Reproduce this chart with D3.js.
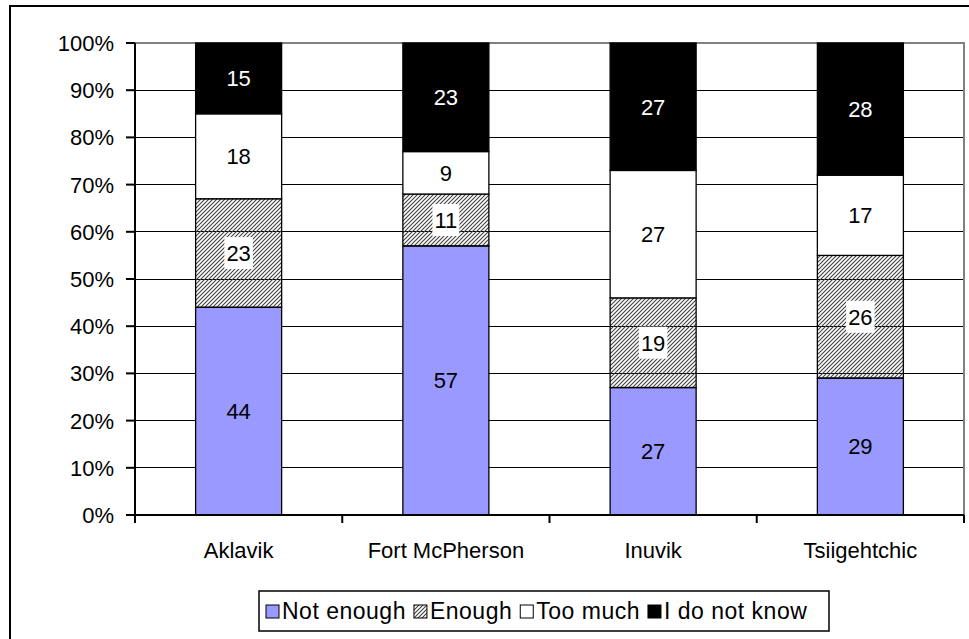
<!DOCTYPE html>
<html lang="en">
<head>
  <meta charset="UTF-8">
  <title>Stacked survey responses</title>
  <script src="https://d3js.org/d3.v7.min.js"></script>
  <style>
    body { margin: 0; background: #fff; }
    svg { display: block; }
    text { font-family: "Liberation Sans", Arial, sans-serif; fill: #000; }
  </style>
</head>
<body>
  <svg id="chart" width="969" height="639"></svg>

  <script>
    // data
    const communities = ["Aklavik", "Fort McPherson", "Inuvik", "Tsiigehtchic"];
    const seriesNames = ["Not enough", "Enough", "Too much", "I do not know"];
    const notEnough = [44, 57, 27, 29];
    const enough    = [23, 11, 19, 26];
    const tooMuch   = [18, 9, 27, 17];
    const dontKnow  = [15, 23, 27, 28];
    const yTicks = [0, 10, 20, 30, 40, 50, 60, 70, 80, 90, 100];

    const width = 969, height = 639;
    const plot = { left: 135, right: 964, top: 43, bottom: 515 };
    const fontSize = 22;
    const legendFont = 23;

    const svg = d3.select("#chart");

    // hatch used for "Enough"
    const defs = svg.append("defs");
    defs.append("pattern")
      .attr("id", "hatch")
      .attr("patternUnits", "userSpaceOnUse")
      .attr("width", 4).attr("height", 4)
      .append("path")
      .attr("d", "M-1,1 l2,-2 M0,4 l4,-4 M3,5 l2,-2")
      .attr("stroke", "#404040")
      .attr("stroke-width", 1.1);

    const fills = ["#9999ff", "url(#hatch)", "#ffffff", "#000000"];

    // outer chart frame (runs off the right and bottom edges)
    svg.append("rect")
      .attr("x", 10).attr("y", 6)
      .attr("width", width + 20).attr("height", height + 20)
      .attr("fill", "none").attr("stroke", "#000").attr("stroke-width", 2);

    const x = d3.scaleBand()
      .domain(communities)
      .range([plot.left, plot.right])
      .paddingInner(0.585)
      .paddingOuter(0.2925);

    const y = d3.scaleLinear().domain([0, 100]).range([plot.bottom, plot.top]);

    // gridlines
    svg.append("g").selectAll("line")
      .data(yTicks.filter(d => d > 0 && d < 100))
      .join("line")
      .attr("x1", plot.left).attr("x2", plot.right)
      .attr("y1", d => y(d)).attr("y2", d => y(d))
      .attr("stroke", "#000").attr("stroke-width", 1)
      .attr("shape-rendering", "crispEdges");

    // top and right plot border (grey)
    svg.append("path")
      .attr("d", `M${plot.left},${y(100)}H${plot.right}V${plot.bottom}`)
      .attr("fill", "none").attr("stroke", "#808080").attr("stroke-width", 2)
      .attr("shape-rendering", "crispEdges");

    // stacked bars
    const rows = communities.map((c, i) => ({
      community: c,
      "Not enough": notEnough[i],
      "Enough": enough[i],
      "Too much": tooMuch[i],
      "I do not know": dontKnow[i]
    }));
    const stacked = d3.stack().keys(seriesNames)(rows);

    const barW = x.bandwidth();
    stacked.forEach((layer, si) => {
      const g = svg.append("g");
      g.selectAll("rect")
        .data(layer)
        .join("rect")
        .attr("x", d => x(d.data.community))
        .attr("y", d => y(d[1]))
        .attr("width", barW)
        .attr("height", d => y(d[0]) - y(d[1]))
        .attr("fill", fills[si])
        .attr("stroke", "#000").attr("stroke-width", 1.3);
    });

    // value labels
    stacked.forEach((layer, si) => {
      const g = svg.append("g");
      layer.forEach(d => {
        const cx = x(d.data.community) + barW / 2;
        const cy = (y(d[0]) + y(d[1])) / 2;
        const val = d[1] - d[0];
        const t = g.append("text")
          .attr("x", cx).attr("y", cy + fontSize * 0.36)
          .attr("text-anchor", "middle")
          .attr("font-size", fontSize)
          .style("fill", si === 3 ? "#fff" : "#000")
          .text(val);
        if (si === 1) {
          const w = t.node().getComputedTextLength();
          g.insert("rect", "text")
            .attr("x", cx - w / 2 - 2).attr("y", cy - 16)
            .attr("width", w + 4).attr("height", 32)
            .attr("fill", "#fff");
        }
      });
    });

    // y axis
    const yAxis = svg.append("g");
    yAxis.append("line")
      .attr("x1", plot.left).attr("x2", plot.left)
      .attr("y1", plot.top).attr("y2", plot.bottom)
      .attr("stroke", "#000").attr("stroke-width", 2);
    yAxis.selectAll("line.tick")
      .data(yTicks)
      .join("line").attr("class", "tick")
      .attr("x1", plot.left - 9).attr("x2", plot.left)
      .attr("y1", d => y(d)).attr("y2", d => y(d))
      .attr("stroke", "#000").attr("stroke-width", 2);
    yAxis.selectAll("text")
      .data(yTicks)
      .join("text")
      .attr("x", 114).attr("y", d => y(d) + fontSize * 0.36)
      .attr("text-anchor", "end")
      .attr("font-size", fontSize)
      .text(d => d + "%");

    // x axis
    const xAxis = svg.append("g");
    xAxis.append("line")
      .attr("x1", plot.left).attr("x2", plot.right)
      .attr("y1", plot.bottom).attr("y2", plot.bottom)
      .attr("stroke", "#000").attr("stroke-width", 2);
    const step = x.step();
    xAxis.selectAll("line.tick")
      .data(d3.range(communities.length + 1))
      .join("line").attr("class", "tick")
      .attr("x1", i => plot.left + i * step).attr("x2", i => plot.left + i * step)
      .attr("y1", plot.bottom).attr("y2", plot.bottom + 8)
      .attr("stroke", "#000").attr("stroke-width", 2);
    xAxis.selectAll("text")
      .data(communities)
      .join("text")
      .attr("x", d => x(d) + barW / 2)
      .attr("y", 558)
      .attr("text-anchor", "middle")
      .attr("font-size", fontSize)
      .text(d => d);

    // legend
    const legend = svg.append("g");
    legend.append("rect")
      .attr("x", 259).attr("y", 591)
      .attr("width", 570).attr("height", 40)
      .attr("fill", "#fff").attr("stroke", "#000").attr("stroke-width", 1.5);
    let lx = 266;
    seriesNames.forEach((name, i) => {
      legend.append("rect")
        .attr("x", lx).attr("y", 605)
        .attr("width", 13).attr("height", 13)
        .attr("fill", fills[i]).attr("stroke", "#000").attr("stroke-width", 1);
      const t = legend.append("text")
        .attr("x", lx + 16).attr("y", 619)
        .attr("font-size", legendFont)
        .attr("letter-spacing", 0.5)
        .text(name);
      lx += 16 + t.node().getComputedTextLength() + 8;
    });
  </script>
</body>
</html>
